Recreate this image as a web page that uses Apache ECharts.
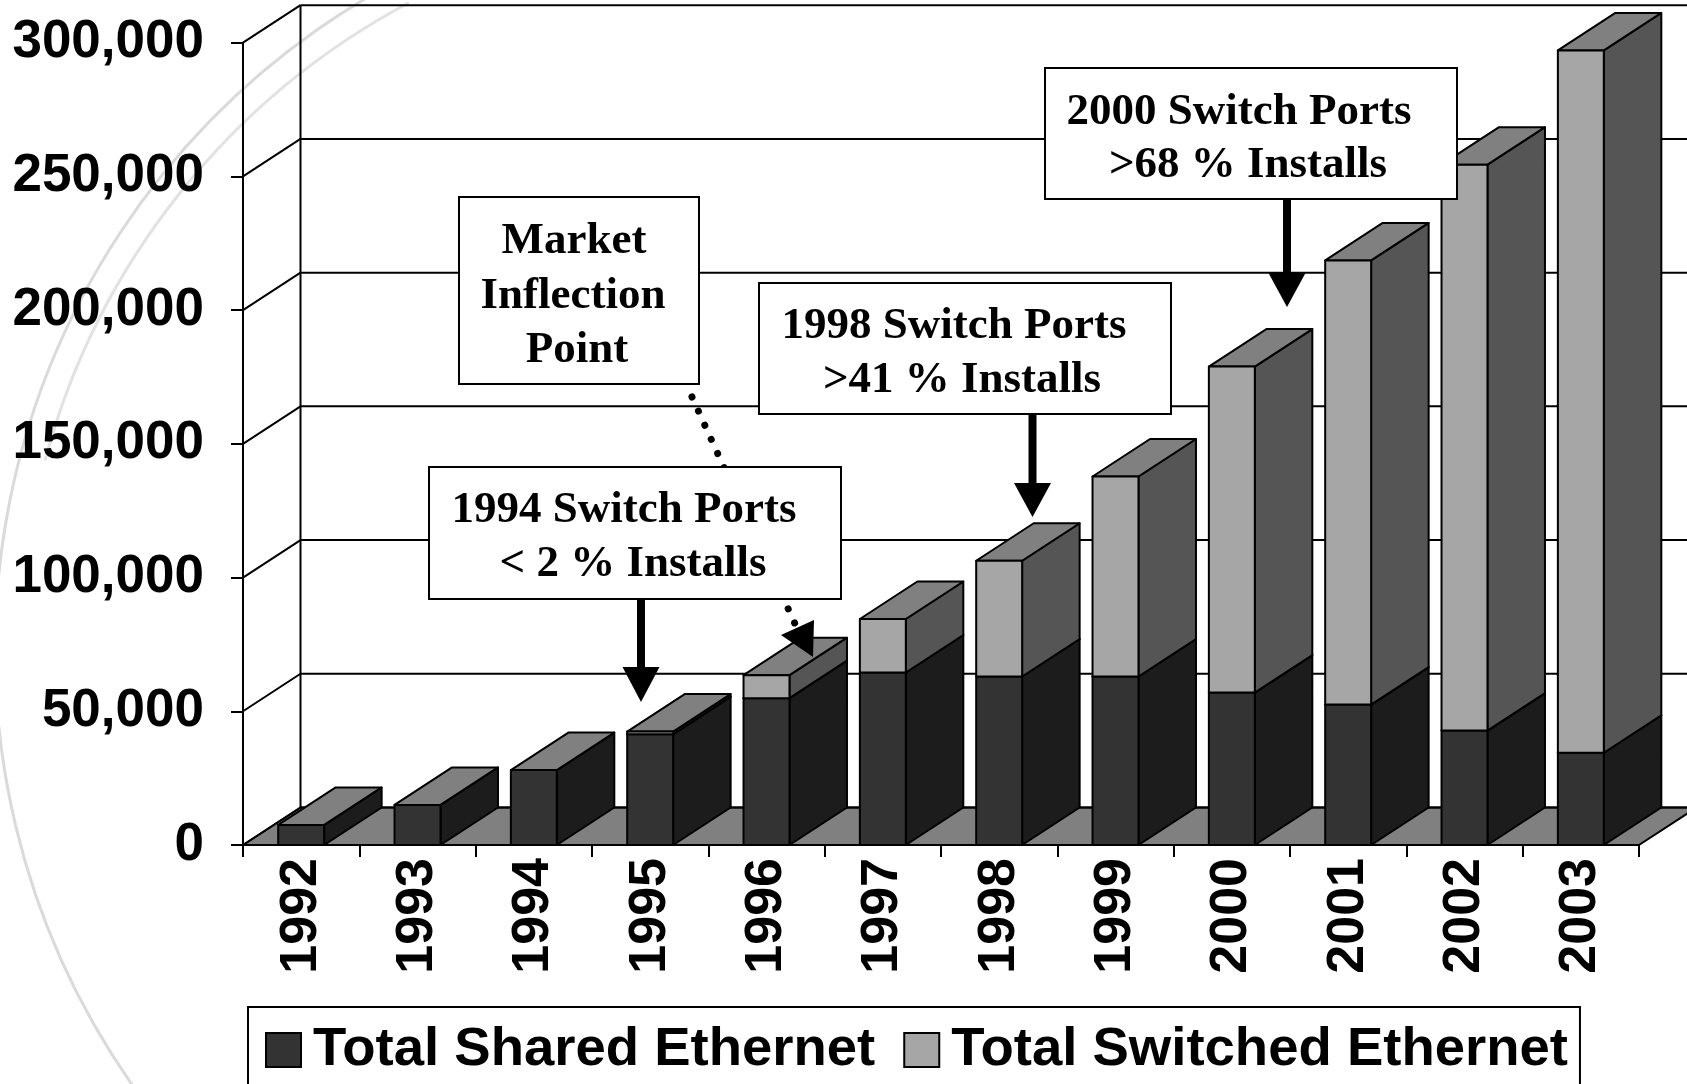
<!DOCTYPE html>
<html>
<head>
<meta charset="utf-8">
<title>Shared vs Switched Ethernet ports</title>
<script src="https://cdn.jsdelivr.net/npm/echarts@6.0.0/dist/echarts.min.js"></script>
<style>
  html, body { margin: 0; padding: 0; background: #fff; }
  #chart { width: 1687px; height: 1084px; }
</style>
</head>
<body>
<div id="chart"></div>
<script>
// Categories on the x axis
const years = ['1992', '1993', '1994', '1995', '1996', '1997', '1998', '1999', '2000', '2001', '2002', '2003'];
// Installed ports
const sharedPorts = [7500, 15000, 28000, 41400, 54900, 64500, 63000, 63000, 57000, 52500, 42800, 34500];
const switchedPorts = [0, 0, 0, 1000, 8600, 20000, 43300, 74800, 121900, 166100, 211600, 262600];
// Value axis ticks
const yTicks = [0, 50000, 100000, 150000, 200000, 250000, 300000];
const seriesNames = ['Total Shared Ethernet', 'Total Switched Ethernet'];

// Offset used to fake the depth of the 3D chart
const DX = 57.5, DY = -37.5;
const OUTLINE = { stroke: '#000', lineWidth: 2, lineJoin: 'round' };

var myChart = echarts.init(document.getElementById('chart'));

// Floor, back wall and side wall with their gridlines
function renderFrame(params, api) {
    const cs = params.coordSys;
    const x0 = cs.x, x1 = cs.x + cs.width;
    const yBase = api.coord([0, 0])[1];
    const yTop = api.coord([0, yTicks[yTicks.length - 1]])[1];
    const children = [];
    children.push({
        type: 'polygon',
        shape: { points: [[x0, yBase], [x1, yBase], [x1 + DX, yBase + DY], [x0 + DX, yBase + DY]] },
        style: Object.assign({ fill: '#808080' }, OUTLINE)
    });
    yTicks.forEach(v => {
        const y = api.coord([0, v])[1];
        children.push({ type: 'line', shape: { x1: x0, y1: y, x2: x0 + DX, y2: y + DY }, style: OUTLINE });
        children.push({ type: 'line', shape: { x1: x0 + DX, y1: y + DY, x2: x1 + DX, y2: y + DY }, style: OUTLINE });
    });
    children.push({ type: 'line', shape: { x1: x0 + DX, y1: yTop + DY, x2: x0 + DX, y2: yBase + DY }, style: OUTLINE });
    return { type: 'group', children: children };
}

// One 3D box from value lo to value hi
function boxRenderer(frontColor, sideColor) {
    return function (params, api) {
        const idx = api.value(0);
        const lo = api.value(1), hi = api.value(2);
        if (!(hi - lo > 0)) return null;
        const pLo = api.coord([idx, lo]);
        const pHi = api.coord([idx, hi]);
        const w = api.size([1, 0])[0] * 0.395;
        const L = pLo[0] - w / 2, R = pLo[0] + w / 2;
        const yb = pLo[1], yt = pHi[1];
        return {
            type: 'group',
            children: [
                { type: 'polygon', shape: { points: [[R, yb], [R + DX, yb + DY], [R + DX, yt + DY], [R, yt]] },
                  style: Object.assign({ fill: sideColor }, OUTLINE) },
                { type: 'polygon', shape: { points: [[L, yt], [R, yt], [R + DX, yt + DY], [L + DX, yt + DY]] },
                  style: Object.assign({ fill: '#808080' }, OUTLINE) },
                { type: 'rect', shape: { x: L, y: yt, width: w, height: yb - yt },
                  style: Object.assign({ fill: frontColor }, OUTLINE) }
            ]
        };
    };
}

const sharedData = years.map((y, i) => [i, 0, sharedPorts[i]]);
const switchedData = years.map((y, i) => [i, sharedPorts[i], sharedPorts[i] + switchedPorts[i]]);

// Callout boxes (layout only)
const notes = [
    { box: [459, 197, 240, 187], lines: [['Market', 574, 241], ['Inflection', 573, 296], ['Point', 577, 350]] },
    { box: [429, 467, 412, 132], lines: [['1994 Switch Ports', 624, 510], ['< 2 % Installs', 633, 564]] },
    { box: [759, 283, 412, 131], lines: [['1998 Switch Ports', 954, 326], ['>41 % Installs', 962, 380]] },
    { box: [1045, 68, 412, 131], lines: [['2000 Switch Ports', 1239, 112], ['>68 % Installs', 1248, 165]] }
];
const arrows = [[641, 599, 667, 702], [1032.5, 414, 483, 517], [1287, 199, 273, 307]];

const graphics = [];
// faint decorative arcs from the slide background
graphics.push({ type: 'arc', z: -5, silent: true,
    shape: { cx: 753, cy: 650, r: 758, startAngle: 145 * Math.PI / 180, endAngle: 240 * Math.PI / 180 },
    style: { fill: null, stroke: '#dadada', lineWidth: 3 } });
graphics.push({ type: 'arc', z: -5, silent: true,
    shape: { cx: 753, cy: 650, r: 733, startAngle: 195 * Math.PI / 180, endAngle: 242 * Math.PI / 180 },
    style: { fill: null, stroke: '#e2e2e2', lineWidth: 3 } });

// dotted arrow from "Market Inflection Point" to 1996
graphics.push({ type: 'line', z: 50, silent: true,
    shape: { x1: 692, y1: 397, x2: 796, y2: 626 },
    style: { stroke: '#000', lineWidth: 7, lineCap: 'round', lineDash: [0.01, 15.5] } });
graphics.push({ type: 'polygon', z: 50, silent: true,
    shape: { points: [[781, 635], [814, 620], [813, 657]] }, style: { fill: '#000' } });

notes.forEach(n => {
    graphics.push({ type: 'rect', z: 60, silent: true,
        shape: { x: n.box[0], y: n.box[1], width: n.box[2], height: n.box[3] },
        style: { fill: '#fff', stroke: '#000', lineWidth: 2 } });
    n.lines.forEach(l => {
        graphics.push({ type: 'text', z: 61, silent: true, x: l[1], y: l[2],
            style: { text: l[0], font: 'bold 45px "Liberation Serif"', fill: '#000',
                     align: 'center', verticalAlign: 'middle', textAlign: 'center', textVerticalAlign: 'middle' } });
    });
});

arrows.forEach(a => {
    const cx = a[0];
    graphics.push({ type: 'rect', z: 60, silent: true,
        shape: { x: cx - 4, y: a[1], width: 8, height: a[2] - a[1] + 1 }, style: { fill: '#000' } });
    graphics.push({ type: 'polygon', z: 60, silent: true,
        shape: { points: [[cx - 18.5, a[2]], [cx + 18.5, a[2]], [cx, a[3]]] }, style: { fill: '#000' } });
});

var option = {
    backgroundColor: '#fff',
    animation: false,
    grid: { left: 243, right: 48, top: 42.7, bottom: 239, outerBoundsMode: 'none' },
    xAxis: {
        type: 'category',
        data: years,
        axisLine: { lineStyle: { color: '#000', width: 2 } },
        axisTick: { show: true, length: 12, alignWithLabel: false, lineStyle: { color: '#000', width: 2 } },
        axisLabel: { rotate: 90, margin: 13, interval: 0, color: '#000',
                     fontFamily: 'Liberation Sans', fontWeight: 'bold', fontSize: 52 },
        splitLine: { show: false }
    },
    yAxis: {
        type: 'value',
        min: 0,
        max: 300000,
        interval: 50000,
        axisLine: { show: true, lineStyle: { color: '#000', width: 2 } },
        axisTick: { show: true, length: 12, lineStyle: { color: '#000', width: 2 } },
        splitLine: { show: false },
        axisLabel: { margin: 39, color: '#000', fontFamily: 'Liberation Sans', fontWeight: 'bold', fontSize: 53,
                     formatter: v => v.toLocaleString('en-US') }
    },
    legend: {
        left: 248,
        top: 1007,
        data: seriesNames.map(n => ({ name: n, icon: 'rect', itemStyle: { borderColor: '#000', borderWidth: 2 } })),
        itemWidth: 35,
        itemHeight: 34,
        itemGap: 28,
        padding: [14, 12, 14, 17],
        borderColor: '#000',
        borderWidth: 2,
        backgroundColor: '#fff',
        selectedMode: false,
        textStyle: { color: '#000', fontFamily: 'Liberation Sans', fontWeight: 'bold', fontSize: 54.5,
                     lineHeight: 58, padding: [0, 0, 0, 7] }
    },
    graphic: graphics,
    series: [
        { type: 'custom', name: 'frame', z: 1, silent: true, clip: false,
          renderItem: renderFrame, data: [[0, 0]], encode: { x: 0, y: 1 } },
        { type: 'custom', name: seriesNames[0], z: 2, clip: false,
          itemStyle: { color: '#333333' },
          renderItem: boxRenderer('#333333', '#1c1c1c'), data: sharedData, encode: { x: 0, y: [1, 2] } },
        { type: 'custom', name: seriesNames[1], z: 3, clip: false,
          itemStyle: { color: '#a6a6a6' },
          renderItem: boxRenderer('#a6a6a6', '#555555'), data: switchedData, encode: { x: 0, y: [1, 2] } }
    ]
};

myChart.setOption(option);
</script>
</body>
</html>
